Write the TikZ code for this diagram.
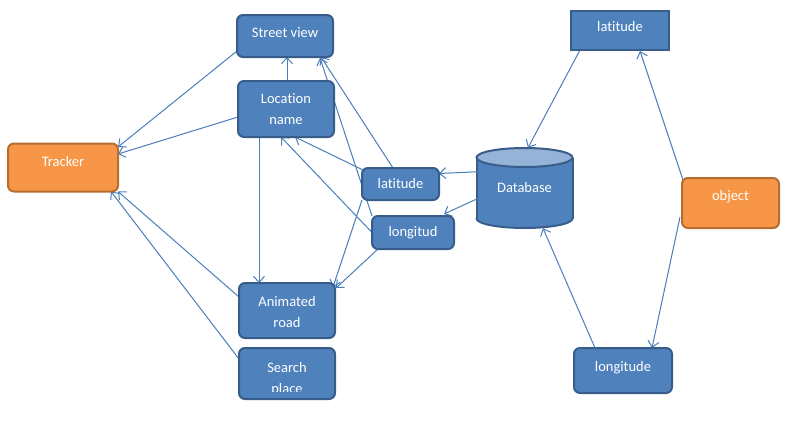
\documentclass[tikz,border=0pt]{standalone}
\usepackage{fontspec}
\setmainfont{Carlito}[Ligatures=CommonOff]
\usetikzlibrary{arrows.meta,calc}
\definecolor{boxblue}{HTML}{4F81BD}
\definecolor{boxline}{HTML}{385D8A}
\definecolor{orfill}{HTML}{F79646}
\definecolor{orline}{HTML}{B66D31}
\definecolor{edgecol}{HTML}{4A7EBB}
\definecolor{dbtop}{HTML}{95B3D7}
\pgfdeclarelayer{bgg}
\pgfdeclarelayer{bg}
\pgfsetlayers{bgg,bg,main}
\newcommand\upby[2]{\raisebox{#1}[\height][\depth]{#2}}
\begin{document}
\begin{tikzpicture}[x=1pt,y=-1pt,
  basebox/.style={line width=2pt, rounded corners=6pt, text=white, align=center,
    font=\fontsize{14.5}{21}\selectfont, inner sep=0pt, outer sep=0pt},
  bluebox/.style={basebox, draw=boxline, fill=boxblue},
  orbox/.style={basebox, draw=orline, fill=orfill},
  link/.style={draw=edgecol, line width=1pt, -{Straight Barb[length=6pt,width=11pt]}}]
\useasboundingbox (0,0) rectangle (785,421);

% nodes
\node[bluebox, minimum width=96pt, minimum height=42pt] (sv) at (285,36) {\upby{3pt}{Street view}};
\node[bluebox, minimum width=96pt, minimum height=56pt] (ln) at (286,109) {Location\\name};
\node[orbox, minimum width=110pt, minimum height=48pt] (tr) at (63,167.5) {\upby{6pt}{Tracker}};
\node[bluebox, minimum width=77pt, minimum height=32pt] (lat1) at (400.5,184) {latitude};
\node[bluebox, minimum width=82pt, minimum height=33pt] (lon1) at (413,232.5) {longitud};
\node[bluebox, rounded corners=0pt, minimum width=98pt, minimum height=39pt] (lat2) at (620,30.5) {\upby{4pt}{latitude}};
\node[orbox, minimum width=97pt, minimum height=50pt] (obj) at (730.5,203) {\upby{6pt}{object}};
\node[bluebox, minimum width=98pt, minimum height=45pt] (lon2) at (623,370.5) {\upby{3pt}{longitude}};
\node[bluebox, minimum width=96pt, minimum height=55pt] (ar) at (287,310.5) {\upby{-2pt}{Animated}\\\upby{-2pt}{road}};
\node[bluebox, minimum width=96pt, minimum height=51pt] (sp) at (287,373.5) {};
\begin{scope}
  \clip (240,349) rectangle (334,391);
  \node[text=white, align=center, font=\fontsize{14.5}{21}\selectfont, inner sep=0pt] (sptext) at (287,379.5) {Search\\place};
\end{scope}
\node[minimum width=96pt, minimum height=80pt, inner sep=0pt, text=white,
  font=\fontsize{14.5}{21}\selectfont] (db) at (524.5,188) {Database};

% database cylinder
\begin{pgfonlayer}{bgg}
  \fill[boxblue] (476.5,157.5) rectangle (572.5,218.5);
  \fill[boxblue] (524.5,218.5) ellipse [x radius=48, y radius=9.5];
  \begin{scope}
    \clip (470,218.5) rectangle (580,235);
    \draw[boxline, line width=2pt] (524.5,218.5) ellipse [x radius=48, y radius=9.5];
  \end{scope}
  \draw[boxline, line width=2pt] (476.5,157.5) -- (476.5,218.5);
  \draw[boxline, line width=2pt] (572.5,157.5) -- (572.5,218.5);
  \filldraw[fill=dbtop, draw=boxline, line width=2pt] (524.5,157.5) ellipse [x radius=48, y radius=9.5];
\end{pgfonlayer}

% connectors
\begin{pgfonlayer}{bg}
  \draw[link] ($(sv.west)+(0,15)$) -- ($(tr.north east)+(0,3.5)$);
  \draw[link] ($(ln.west)+(0,8)$) -- ($(tr.east)+(0,-13.5)$);
  \draw[link] ($(ln.north)+(1,0)$) -- ($(sv.south)+(2,0)$);
  \draw[link] ($(ln.south)+(-27,0)$) -- ($(ar.north)+(-28,0)$);
  \draw[link] ($(ar.west)+(0,-13.5)$) -- (tr.south east);
  \draw[link] ($(sp.west)+(0,-14.5)$) -- ($(tr.south east)+(-7,0)$);
  \draw[link] ($(lat1.north west)+(1,2)$) -- ($(ln.south)+(9,0)$);
  \draw[link] ($(lat1.north)+(-7.5,0)$) -- ($(sv.south east)+(-12,0)$);
  \draw[link] (lon1.west) -- ($(ln.south)+(-5,0)$);
  \draw[link] (lon1.north west) -- ($(sv.south east)+(-13,1)$);
  \draw[link] (lat1.south west) -- ($(ar.north east)+(-2,4)$);
  \draw[link] ($(lon1.south west)+(6,0)$) -- ($(ar.north east)+(1,5)$);
  \draw[link] ($(db.west)+(18,-17)$) -- ($(lat1.east)+(0,-10.5)$);
  \draw[link] ($(db.west)+(18,3)$) -- ($(lon1.north east)+(-10,-2)$);
  \draw[link] ($(lat2.south west)+(9,0)$) -- ($(db.north)+(3.5,0)$);
  \draw[link] ($(obj.north west)+(1,2)$) -- ($(lat2.south)+(20,1)$);
  \draw[link] ($(obj.west)+(-2,14)$) -- ($(lon2.north)+(29,0)$);
  \draw[link] ($(lon2.north west)+(21,0)$) -- ($(db.south)+(18.5,0)$);
\end{pgfonlayer}
\end{tikzpicture}
\end{document}
